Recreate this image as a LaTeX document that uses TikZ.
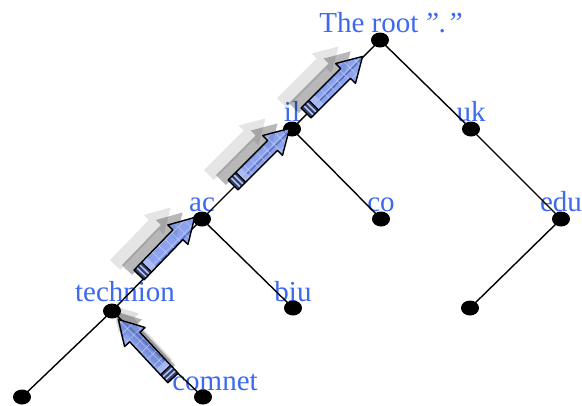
\documentclass[tikz,border=0pt]{standalone}
\usepackage{fontspec}
\setmainfont{Liberation Serif}
\usetikzlibrary{shapes.geometric, patterns.meta}
\definecolor{labelblue}{RGB}{60,105,240}
\definecolor{arrowblue}{RGB}{112,140,232}
\tikzset{
  ghostarrow/.pic={
    \fill[black, opacity=#1] (0,-7) -- (56,-7) -- (56,-14) -- (80,0) -- (56,14) -- (56,7) -- (0,7) -- cycle;
  },
  fatarrow/.pic={
    \path[fill=arrowblue, fill opacity=0.8,
      postaction={pattern={Hatch[angle=45, distance=9pt, line width=0.5pt]}, pattern color=white!55!arrowblue}]
      (0,-7) -- (56,-7) -- (56,-14) -- (80,0) -- (56,14) -- (56,7) -- (0,7) -- cycle;
    \fill[arrowblue!55!white, opacity=0.8] (11,-7) rectangle (18,7);
    \fill[arrowblue!45!black] (0,-7) rectangle (11,7);
    \fill[arrowblue!50!white] (3,-7) rectangle (4.5,7) (7,-7) rectangle (8.5,7);
    \draw[line width=1.4pt, line join=round] (0,-7) -- (56,-7) -- (56,-14) -- (80,0) -- (56,14) -- (56,7) -- (0,7) -- cycle;
    \draw[line width=1pt] (11,-7) -- (11,7);
  },
}
\begin{document}
\begin{tikzpicture}[x=1pt, y=-1pt,
    dot/.style={ellipse, fill, minimum width=18pt, minimum height=15pt, inner sep=0pt},
    lbl/.style={text=labelblue, font=\fontsize{29}{30}\selectfont, anchor=base, inner sep=0pt},
    edge/.style={line width=1.4pt}]
  \useasboundingbox (0,0) rectangle (582,405);
  \node[lbl] (lroot) at (391,32) {The root\,\textit{”.”}};
  \node[lbl] (lil) at (292,121) {il};
  \node[lbl] (luk) at (471,121) {uk};
  \node[lbl] (lac) at (202,211) {ac};
  \node[lbl] (lco) at (381,211) {co};
  \node[lbl] (ledu) at (561,211) {edu};
  \node[lbl] (ltech) at (125,301) {technion};
  \node[lbl] (lbiu) at (293,301) {biu};
  \node[lbl] (lcomnet) at (215,390) {comnet};

  \node[dot] (root) at (380,40) {};
  \node[dot] (il) at (292,129) {};
  \node[dot] (uk) at (471,129) {};
  \node[dot] (ac) at (202,219) {};
  \node[dot] (co) at (381,219) {};
  \node[dot] (edu) at (561,219) {};
  \node[dot] (tech) at (112,311) {};
  \node[dot] (biu) at (293,308) {};
  \node[dot] (eduleaf) at (470,308) {};
  \node[dot] (techleaf) at (22,397) {};
  \node[dot] (comnet) at (203,397) {};

  \draw[edge] (root.center) -- (il.center) -- (ac.center) -- (tech.center) -- (techleaf.center);
  \draw[edge] (root.center) -- (uk.center) -- (edu.center) -- (eduleaf.center);
  \draw[edge] (il.center) -- (co.center);
  \draw[edge] (ac.center) -- (biu.center);
  \draw[edge] (tech.center) -- (comnet.center);

  \coordinate (tcomnet) at (173,378);
  \coordinate (ttech) at (139,275);
  \coordinate (tac) at (233,185);
  \coordinate (til) at (306,113);

  \pic[rotate=133] at ([shift={(-6,-14)}]tcomnet) {ghostarrow=0.12};
  \pic[rotate=133] at ([shift={(-3,-8)}]tcomnet) {ghostarrow=0.3};
  \pic[rotate=133] at (tcomnet) {fatarrow};
  \foreach \t/\a in {ttech/46, tac/45, til/45} {
    \pic[rotate=\a] at ([shift={(-24,-10)}]\t) {ghostarrow=0.1};
    \pic[rotate=\a] at ([shift={(-12,-5)}]\t) {ghostarrow=0.28};
    \pic[rotate=\a] at (\t) {fatarrow};
  }
\end{tikzpicture}
\end{document}
